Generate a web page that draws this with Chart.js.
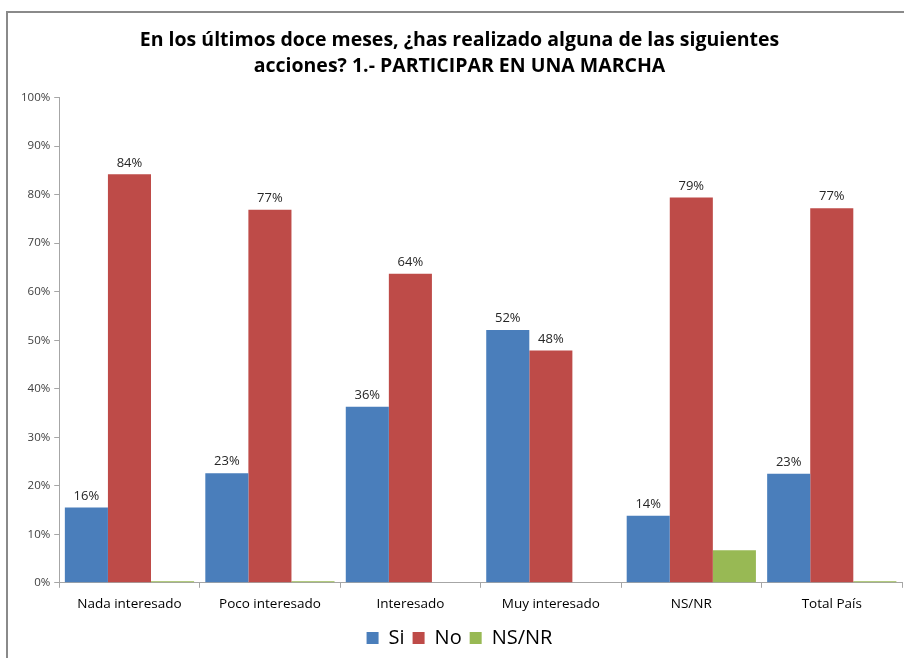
<!DOCTYPE html>
<html><head><meta charset="utf-8">
<script src="https://cdn.jsdelivr.net/npm/chart.js@4.4.0/dist/chart.umd.min.js"></script>
<style>html,body{margin:0;padding:0;background:#fff;}#wrap{position:absolute;left:0;top:0;width:904px;height:658px;}</style>
</head><body><div id="wrap"><canvas id="c" width="904" height="658"></canvas></div>
<script>
const categories = ["Nada interesado","Poco interesado","Interesado","Muy interesado","NS/NR","Total País"];
const siValues = [15.5, 22.6, 36.3, 52.1, 13.8, 22.5];
const noValues = [84.2, 76.9, 63.7, 47.9, 79.4, 77.2];
const nsnrValues = [0.3, 0.3, 0, 0, 6.7, 0.3];
const siLabels = ["16%","23%","36%","52%","14%","23%"];
const noLabels = ["84%","77%","64%","48%","79%","77%"];
const titleLines = ["En los últimos doce meses, ¿has realizado alguna de las siguientes","acciones? 1.- PARTICIPAR EN UNA MARCHA"];

const FONT = "'Open Sans','Noto Sans',sans-serif";

const framePlugin = {
  id:'frame',
  beforeDraw(chart){
    const ctx = chart.ctx;
    ctx.save();
    ctx.strokeStyle = '#8a8a8a';
    ctx.lineWidth = 2;
    ctx.beginPath();
    ctx.moveTo(7, 658); ctx.lineTo(7, 12); ctx.lineTo(904, 12);
    ctx.stroke();
    ctx.restore();
  }
};
const labelPlugin = {
  id:'barLabels',
  afterDatasetsDraw(chart){
    const ctx = chart.ctx;
    ctx.save();
    ctx.font = "13px " + FONT;
    ctx.fillStyle = '#262626';
    ctx.textAlign = 'center';
    ctx.textBaseline = 'bottom';
    [siLabels, noLabels].forEach((labels, di) => {
      const meta = chart.getDatasetMeta(di);
      meta.data.forEach((bar, i) => {
        ctx.fillText(labels[i], bar.x, bar.y - 5);
      });
    });
    ctx.restore();
  }
};

new Chart(document.getElementById('c'), {
  type:'bar',
  data:{
    labels: categories,
    datasets:[
      {label:'Si', data: siValues, backgroundColor:'#4a7ebb', borderWidth:0},
      {label:'No', data: noValues, backgroundColor:'#be4b48', borderWidth:0},
      {label:'NS/NR', data: nsnrValues, backgroundColor:'#98b954', borderWidth:0}
    ]
  },
  options:{
    responsive:false,
    animation:false,
    layout:{padding:{left:17, right:2, top:0, bottom:0}},
    datasets:{bar:{categoryPercentage:0.92, barPercentage:1.0}},
    plugins:{
      title:{display:true, text:titleLines, color:'#000', font:{family:FONT, size:19.5, weight:'bold', lineHeight:1.35}, padding:{top:27, bottom:18}},
      legend:{position:'bottom', labels:{color:'#000', font:{family:FONT, size:20}, boxWidth:12, boxHeight:12, padding:8}},
      tooltip:{enabled:false}
    },
    scales:{
      x:{
        grid:{display:true, drawOnChartArea:false, drawTicks:true, tickLength:5, color:'#a6a6a6', offset:true},
        border:{display:true, color:'#a6a6a6'},
        ticks:{color:'#000', font:{family:FONT, size:13.5}, padding:8}
      },
      y:{
        min:0, max:100,
        grid:{display:true, drawOnChartArea:false, drawTicks:true, tickLength:5, color:'#a6a6a6'},
        border:{display:true, color:'#a6a6a6'},
        ticks:{stepSize:10, color:'#404040', font:{family:FONT, size:11.5}, padding:4, callback:v=>v+'%'}
      }
    }
  },
  plugins:[framePlugin, labelPlugin]
});
</script></body></html>
